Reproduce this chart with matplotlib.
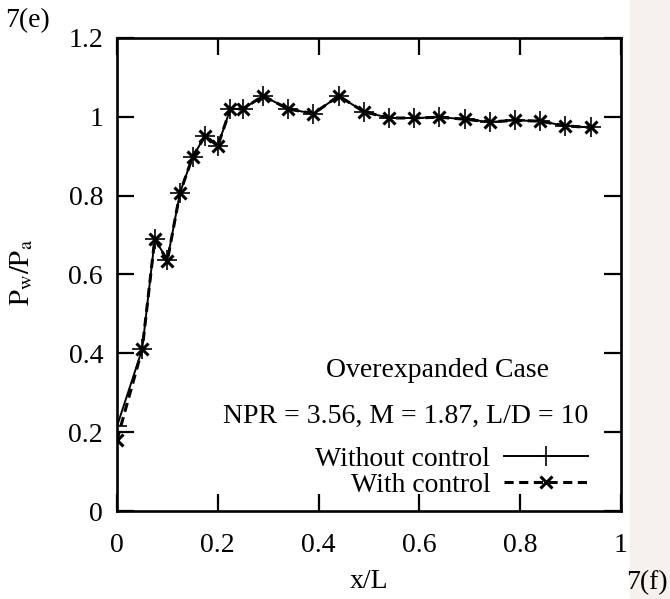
import matplotlib
matplotlib.use('Agg')
import matplotlib.pyplot as plt
from matplotlib.ticker import FuncFormatter

# x/L positions of the pressure taps
x_l = [0, 0.05, 0.075, 0.1, 0.125, 0.15, 0.175, 0.2, 0.225, 0.25, 0.29, 0.34,
       0.39, 0.44, 0.49, 0.54, 0.59, 0.64, 0.69, 0.74, 0.79, 0.84, 0.89, 0.94]
without_control = [0.215, 0.41, 0.69, 0.637, 0.807, 0.898, 0.952, 0.926, 1.02, 1.02,
                   1.053, 1.02, 1.008, 1.053, 1.013, 0.997, 0.997, 0.999, 0.994,
                   0.987, 0.991, 0.989, 0.977, 0.973]
with_control = [0.18, 0.41, 0.69, 0.635, 0.807, 0.898, 0.952, 0.926, 1.02, 1.02,
                1.053, 1.02, 1.008, 1.053, 1.013, 0.997, 0.997, 0.999, 0.994,
                0.987, 0.991, 0.989, 0.977, 0.973]

plt.rcParams['font.family'] = 'Liberation Serif'
plt.rcParams['mathtext.fontset'] = 'stix'


def fmt(v, pos):
    return ('%g' % round(v, 2))


def main():
    fig = plt.figure(figsize=(6.7, 5.99), dpi=100)
    fig.patches.append(plt.Rectangle((0.94, 0), 0.06, 1, transform=fig.transFigure,
                                     color='#f7f1ed', zorder=0))
    ax = fig.add_axes([0.1746, 0.1469, 0.752, 0.7897])

    ax.plot(x_l, without_control, '-', color='black', lw=1.4, marker='+',
            ms=14, mew=1.2, label='Without control')
    ax.plot(x_l, with_control, '--', color='black', lw=2.2, dashes=(3.0, 1.8),
            marker='x', ms=9, mew=2.2, label='With control')

    ax.set_xlim(0, 1)
    ax.set_ylim(0, 1.2)
    ax.set_xticks([0, 0.2, 0.4, 0.6, 0.8, 1.0])
    ax.set_yticks([0, 0.2, 0.4, 0.6, 0.8, 1.0, 1.2])
    ax.xaxis.set_major_formatter(FuncFormatter(fmt))
    ax.yaxis.set_major_formatter(FuncFormatter(fmt))
    ax.tick_params(direction='in', length=12, width=1.6, labelsize=20,
                   top=True, right=True, pad=10)
    ax.tick_params(axis='x', pad=16)
    for s in ax.spines.values():
        s.set_linewidth(1.9)

    ax.set_xlabel('x/L', fontsize=20, labelpad=8)
    ax.set_ylabel(r'$\mathrm{P_w/P_a}$', fontsize=20.5)
    ax.yaxis.set_label_coords(-0.163, 0.505)

    ax.text(0.637, 0.298, 'Overexpanded Case', transform=ax.transAxes,
            ha='center', va='center', fontsize=20)
    ax.text(0.935, 0.199, 'NPR = 3.56, M = 1.87, L/D = 10', transform=ax.transAxes,
            ha='right', va='center', fontsize=20)

    leg = ax.legend(loc='lower right', bbox_to_anchor=(0.956, 0.005), frameon=False,
                    fontsize=20, markerfirst=False, handlelength=3.0,
                    labelspacing=0.0, handletextpad=0.5, borderaxespad=0)
    for t in leg.get_texts():
        t.set_ha('right')

    fig.text(0.008, 0.965, '7(e)', fontsize=20, ha='left', va='center')
    fig.text(0.935, 0.027, '7(f)', fontsize=20, ha='left', va='center')

    fig.savefig('out.png', dpi=100)


if __name__ == '__main__':
    main()
